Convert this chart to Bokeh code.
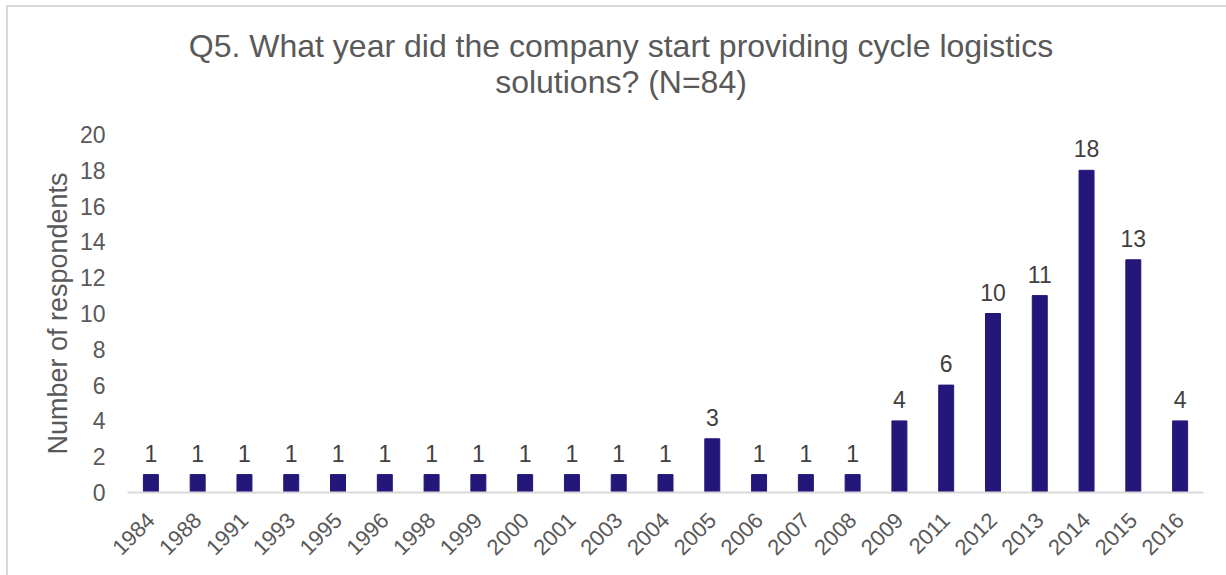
import math
from bokeh.plotting import figure
from bokeh.models import ColumnDataSource, LabelSet, Div
from bokeh.layouts import column
from bokeh.core.properties import value
from bokeh.embed import file_html
from bokeh.resources import INLINE

years = ["1984", "1988", "1991", "1993", "1995", "1996", "1998", "1999", "2000", "2001",
         "2003", "2004", "2005", "2006", "2007", "2008", "2009", "2011", "2012", "2013",
         "2014", "2015", "2016"]
counts = [1, 1, 1, 1, 1, 1, 1, 1, 1, 1, 1, 1, 3, 1, 1, 1, 4, 6, 10, 11, 18, 13, 4]
y_ticks = [0, 2, 4, 6, 8, 10, 12, 14, 16, 18, 20]
title_lines = ["Q5. What year did the company start providing cycle logistics",
               "solutions? (N=84)"]

FONT = "Liberation Sans"
GREY = "#595959"

src = ColumnDataSource(dict(x=years, y=counts, lab=[str(c) for c in counts]))

title_html = (
    '<div style="width:1210px;margin-left:8px;padding-top:21px;text-align:center;'
    'font-family:\'Liberation Sans\',Arial,sans-serif;font-size:32px;line-height:36px;'
    'color:%s;white-space:nowrap;">%s</div>' % (GREY, "<br>".join(title_lines))
)
title_div = Div(text=title_html, width=1218, height=110, margin=0)

p = figure(x_range=years, y_range=(0, 20), width=1218, height=458,
           output_backend="svg", toolbar_location=None, margin=0,
           min_border_left=119, min_border_right=23, min_border_top=17, min_border_bottom=83)

p.vbar(x="x", top="y", width=0.32, source=src, fill_color="#23177A", line_color="#23177A")

labels = LabelSet(x="x", y="y", text="lab", source=src, text_align="center",
                  text_baseline="bottom", y_offset=13, text_font=value(FONT),
                  text_font_size="23px", text_color="#404040")
p.add_layout(labels)

p.xgrid.grid_line_color = None
p.ygrid.grid_line_color = None
p.outline_line_color = None

p.yaxis.ticker = y_ticks
p.yaxis.axis_line_color = None
p.yaxis.major_tick_line_color = None
p.yaxis.minor_tick_line_color = None
p.yaxis.major_tick_out = 0
p.yaxis.major_tick_in = 0
p.yaxis.major_label_text_font = FONT
p.yaxis.major_label_text_font_size = "23px"
p.yaxis.major_label_text_color = GREY
p.yaxis.major_label_standoff = 22
p.yaxis.axis_label = "Number of respondents"
p.yaxis.axis_label_text_font = FONT
p.yaxis.axis_label_text_font_size = "27px"
p.yaxis.axis_label_text_font_style = "normal"
p.yaxis.axis_label_text_color = GREY
p.yaxis.axis_label_standoff = 4

p.xaxis.axis_line_color = "#D9D9D9"
p.xaxis.axis_line_width = 2
p.xaxis.major_tick_line_color = None
p.xaxis.minor_tick_line_color = None
p.xaxis.major_tick_out = 0
p.xaxis.major_tick_in = 0
p.xaxis.major_label_orientation = math.pi / 4
p.xaxis.major_label_text_font = FONT
p.xaxis.major_label_text_font_size = "22px"
p.xaxis.major_label_text_color = GREY
p.xaxis.major_label_standoff = 24

layout = column(title_div, p, spacing=0)
layout.styles = {"border-left": "2px solid #D9D9D9", "border-top": "2px solid #D9D9D9",
                 "margin-left": "6px", "margin-top": "5px"}

open("out.html", "w").write(file_html(layout, INLINE))
